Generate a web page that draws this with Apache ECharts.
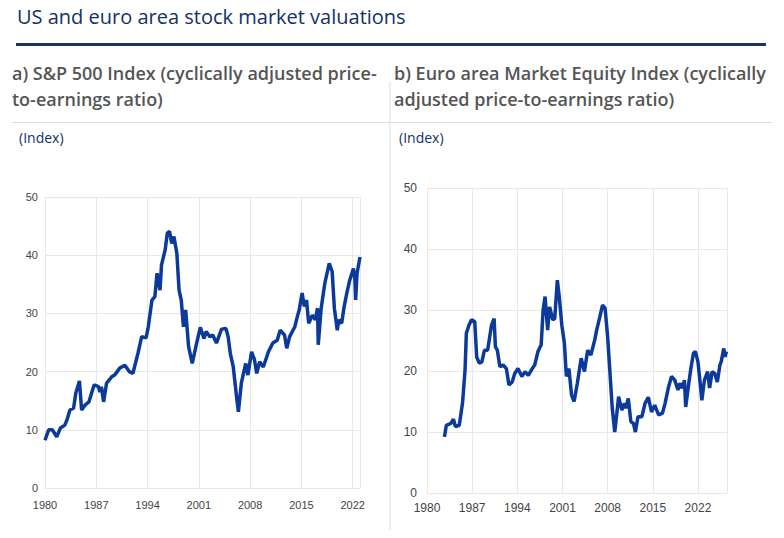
<!DOCTYPE html>
<html lang="en">
<head>
<meta charset="UTF-8">
<title>US and euro area stock market valuations</title>
<script src="https://cdn.jsdelivr.net/npm/echarts@6/dist/echarts.min.js"></script>
<style>
  html, body { margin: 0; padding: 0; background: #fff; }
  #main { width: 784px; height: 538px; }
</style>
</head>
<body>
<div id="main"></div>
<script type="text/javascript">
// a) S&P 500 CAPE
var usDates = [1980.0, 1980.5, 1981.0, 1981.6, 1982.1, 1982.7, 1983.0, 1983.4, 1983.9, 1984.2,
  1984.7, 1985.0, 1985.5, 1986.0, 1986.7, 1987.3, 1987.5, 1987.7, 1988.0, 1988.4,
  1989.1, 1989.5, 1990.2, 1990.9, 1991.5, 1992.0, 1992.7, 1993.2, 1993.8, 1994.1,
  1994.6, 1995.0, 1995.3, 1995.7, 1995.9, 1996.4, 1996.7, 1997.0, 1997.3, 1997.6,
  1998.0, 1998.3, 1998.6, 1998.9, 1999.2, 1999.6, 2000.1, 2000.7, 2001.2, 2001.7,
  2002.0, 2002.5, 2002.9, 2003.4, 2004.1, 2004.7, 2005.0, 2005.3, 2005.7, 2006.2,
  2006.4, 2006.8, 2007.4, 2007.7, 2008.2, 2008.6, 2008.9, 2009.3, 2009.8, 2010.5,
  2011.1, 2011.7, 2012.1, 2012.7, 2013.0, 2013.4, 2014.1, 2014.5, 2014.7, 2015.1,
  2015.4, 2015.7, 2016.0, 2016.5, 2016.9, 2017.2, 2017.3, 2017.7, 2018.2, 2018.8,
  2019.2, 2019.5, 2019.9, 2020.1, 2020.5, 2020.8, 2021.2, 2021.6, 2022.1, 2022.3,
  2022.4, 2022.6, 2023.0];
var usCape = [8.2, 10.0, 10.0, 8.8, 10.3, 10.8, 11.7, 13.4, 13.7, 16.3,
  18.4, 13.4, 14.3, 14.8, 17.7, 17.4, 16.5, 17.4, 14.8, 18.0,
  19.1, 19.4, 20.6, 21.1, 20.0, 19.7, 23.2, 26.0, 25.8, 27.7,
  32.3, 32.9, 36.9, 34.0, 38.3, 40.9, 43.8, 44.1, 42.0, 43.2,
  40.3, 34.0, 32.3, 27.7, 30.6, 24.3, 21.4, 24.9, 27.6, 25.7,
  26.9, 26.0, 26.3, 24.9, 27.3, 27.4, 26.0, 23.1, 20.8, 15.1,
  13.1, 18.0, 21.4, 19.4, 23.4, 22.0, 19.7, 21.7, 20.8, 23.4,
  24.9, 25.4, 27.1, 26.3, 24.0, 26.0, 27.7, 29.7, 30.6, 33.5,
  31.2, 32.3, 28.3, 29.7, 28.9, 30.9, 24.6, 30.9, 35.2, 38.6,
  37.2, 30.9, 27.1, 28.9, 28.3, 30.9, 33.5, 35.7, 37.7, 36.0,
  32.3, 36.9, 39.7];

// b) Euro area Market Equity CAPE
var euDates = [1982.7, 1983.0, 1983.7, 1984.1, 1984.4, 1985.0, 1985.5, 1985.9, 1986.1, 1986.5,
  1986.9, 1987.4, 1987.7, 1988.1, 1988.5, 1988.9, 1989.4, 1989.6, 1990.0, 1990.4,
  1990.6, 1990.9, 1991.3, 1991.8, 1992.3, 1992.7, 1993.2, 1993.6, 1994.1, 1994.7,
  1995.2, 1995.7, 1996.2, 1996.7, 1997.2, 1997.7, 1998.0, 1998.3, 1998.7, 1999.0,
  1999.5, 1999.8, 2000.2, 2000.5, 2000.9, 2001.3, 2001.6, 2002.0, 2002.4, 2002.8,
  2003.3, 2003.9, 2004.4, 2004.9, 2005.4, 2006.0, 2006.3, 2006.8, 2007.2, 2007.6,
  2008.0, 2008.3, 2008.7, 2009.1, 2009.4, 2009.7, 2010.2, 2010.6, 2010.8, 2011.2,
  2011.6, 2012.0, 2012.3, 2012.7, 2013.3, 2013.8, 2014.3, 2014.8, 2015.3, 2015.9,
  2016.5, 2016.9, 2017.4, 2017.9, 2018.4, 2018.9, 2019.2, 2019.6, 2019.9, 2020.1,
  2020.5, 2020.9, 2021.3, 2021.6, 2022.0, 2022.4, 2022.6, 2023.0, 2023.5, 2023.8,
  2024.2, 2024.6, 2025.0, 2025.4, 2025.6, 2026.0, 2026.2, 2026.4];
var euCape = [9.2, 11.1, 11.4, 12.1, 10.9, 11.1, 14.7, 20.2, 26.2, 27.5,
  28.4, 28.1, 22.3, 21.3, 21.5, 23.4, 23.4, 24.8, 27.5, 28.6,
  24.0, 23.4, 20.7, 21.0, 20.4, 17.7, 18.2, 19.6, 20.4, 19.1,
  19.9, 19.3, 20.2, 21.0, 23.2, 24.3, 30.0, 32.2, 26.7, 30.5,
  28.4, 28.6, 34.9, 32.2, 27.5, 24.5, 19.1, 20.4, 16.1, 15.0,
  18.0, 22.1, 19.9, 23.4, 22.6, 25.1, 26.7, 28.9, 30.8, 30.3,
  25.6, 20.7, 14.1, 10.0, 12.8, 15.8, 13.6, 14.7, 13.9, 15.5,
  11.7, 11.4, 10.0, 12.5, 12.5, 14.7, 15.7, 13.3, 14.4, 12.8,
  13.1, 14.7, 17.2, 19.1, 18.5, 16.9, 18.0, 17.2, 18.5, 14.1,
  17.4, 20.4, 22.9, 23.2, 21.5, 17.4, 15.2, 18.5, 19.9, 17.2,
  19.9, 19.6, 18.2, 21.0, 21.5, 23.7, 22.3, 23.2];

var yTicks = [0, 10, 20, 30, 40, 50];
var yearLabels = [1980, 1987, 1994, 2001, 2008, 2015, 2022];

function zip(xs, ys) {
  var out = [];
  for (var i = 0; i < xs.length; i++) out.push([xs[i], ys[i]]);
  return out;
}

var lineBlue = '#0b3a9a';
var navy = '#14306b';
var labelGrey = '#444';
var gridGrey = '#e8e8e8';

function xAxisFor(idx, maxYear, margin, size) {
  return {
    gridIndex: idx, type: 'value', min: 1980, max: maxYear, interval: 7,
    axisLine: { show: true, lineStyle: { color: gridGrey } },
    axisTick: { show: false },
    splitLine: { show: true, lineStyle: { color: gridGrey } },
    axisLabel: {
      color: labelGrey, fontFamily: 'Liberation Sans', fontSize: size, margin: margin,
      showMaxLabel: false,
      formatter: function (v) { return yearLabels.indexOf(v) >= 0 ? String(v) : ''; }
    }
  };
}
function yAxisFor(idx, margin, size) {
  return {
    gridIndex: idx, type: 'value', min: yTicks[0], max: yTicks[yTicks.length - 1], interval: 10,
    axisLine: { show: false }, axisTick: { show: false },
    splitLine: { lineStyle: { color: gridGrey } },
    axisLabel: { color: labelGrey, fontFamily: 'Liberation Sans', fontSize: size, margin: margin }
  };
}

var myChart = echarts.init(document.getElementById('main'), null, { renderer: 'svg' });
var option = {
  animation: false,
  backgroundColor: '#fff',
  graphic: [
    { type: 'text', left: 17, top: 6, style: { text: 'US and euro area stock market valuations', fill: navy, font: '20px "Open Sans"' } },
    { type: 'rect', shape: { x: 16, y: 43, width: 750, height: 3 }, style: { fill: '#1c3461' } },
    { type: 'text', left: 12, top: 60, style: { text: 'a) S&P 500 Index (cyclically adjusted price-\nto-earnings ratio)', fill: '#555', font: '600 18px "Open Sans"', lineHeight: 26 } },
    { type: 'text', left: 394, top: 60, style: { text: 'b) Euro area Market Equity Index (cyclically\nadjusted price-to-earnings ratio)', fill: '#555', font: '600 18px "Open Sans"', lineHeight: 26 } },
    { type: 'line', shape: { x1: 390, y1: 82, x2: 390, y2: 530 }, style: { stroke: '#ddd', lineWidth: 1 } },
    { type: 'line', shape: { x1: 12, y1: 122.5, x2: 772, y2: 122.5 }, style: { stroke: '#ddd', lineWidth: 1 } },
    { type: 'text', left: 19, top: 130, style: { text: '(Index)', fill: navy, font: '14px "Open Sans"' } },
    { type: 'text', left: 399, top: 130, style: { text: '(Index)', fill: navy, font: '14px "Open Sans"' } }
  ],
  grid: [
    { left: 45, right: 424, top: 197, bottom: 50 },
    { left: 427, right: 57, top: 188, bottom: 45 }
  ],
  xAxis: [xAxisFor(0, 2023, 11, 11), xAxisFor(1, 2026.5, 9, 12)],
  yAxis: [yAxisFor(0, 7, 11), yAxisFor(1, 10, 12)],
  series: [
    { type: 'line', xAxisIndex: 0, yAxisIndex: 0, data: zip(usDates, usCape), showSymbol: false,
      lineStyle: { color: lineBlue, width: 3.5 } },
    { type: 'line', xAxisIndex: 1, yAxisIndex: 1, data: zip(euDates, euCape), showSymbol: false,
      lineStyle: { color: lineBlue, width: 3.5 } }
  ]
};
myChart.setOption(option);
</script>
</body>
</html>
